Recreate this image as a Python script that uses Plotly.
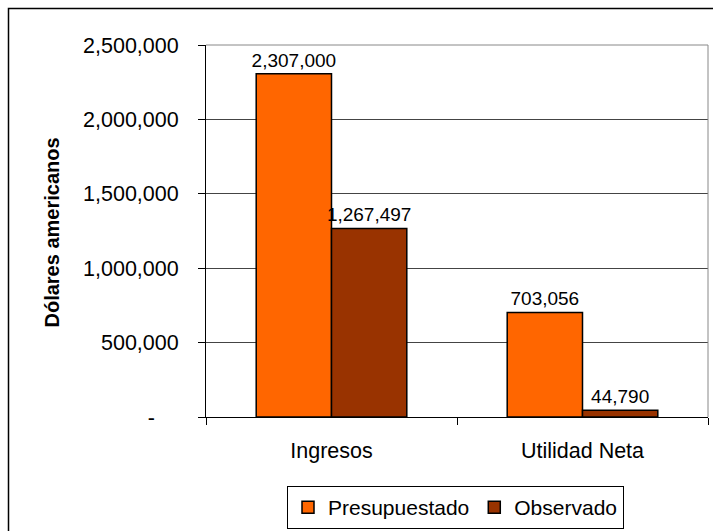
import plotly.graph_objects as go

categories = ["Ingresos", "Utilidad Neta"]
presupuestado = [2307000, 703056]
observado = [1267497, 44790]
series_names = ["Presupuestado", "Observado"]
tick_values = [0, 500000, 1000000, 1500000, 2000000, 2500000]
tick_labels = ["-\u00a0\u00a0\u00a0\u00a0", "500,000", "1,000,000", "1,500,000", "2,000,000", "2,500,000"]

FONT = "Liberation Sans, Arial, sans-serif"

fig = go.Figure()
for name, vals, color in [(series_names[0], presupuestado, "#FF6600"),
                          (series_names[1], observado, "#993300")]:
    fig.add_trace(go.Bar(
        x=categories, y=vals, name=name,
        marker=dict(color=color, line=dict(color="black", width=1.5)),
        text=[f"{v:,}" for v in vals], textposition="outside",
        textfont=dict(family=FONT, size=19, color="black"),
        constraintext="none", cliponaxis=False,
    ))

L, R, T, B = 206, 5, 45, 114
W, H = 713, 531
pw = W - L - R
ph = H - T - B

def px(x):
    return (x - L) / pw

def py(y):
    return (H - B - y) / ph

fig.update_layout(
    width=W, height=H, autosize=False,
    margin=dict(l=L, r=R, t=T, b=B, autoexpand=False),
    paper_bgcolor="white", plot_bgcolor="white",
    barmode="group", bargap=0.4, bargroupgap=0,
    font=dict(family=FONT, size=21, color="black"),
    showlegend=True,
    legend=dict(orientation="h", x=px(455.5), xanchor="center", y=py(529), yanchor="bottom",
                bordercolor="black", borderwidth=1, font=dict(size=21, family=FONT),
                bgcolor="white", itemwidth=30, tracegroupgap=0),
    xaxis=dict(type="category", showline=True, linecolor="black", linewidth=1,
               ticks="outside", tickson="boundaries", ticklen=7, tickcolor="black",
               tickfont=dict(size=21.5, family=FONT), showgrid=False,
               ticklabelstandoff=14, automargin=False),
    yaxis=dict(range=[0, 2500000], tickvals=tick_values, ticktext=tick_labels,
               showline=True, linecolor="black", linewidth=1,
               ticks="outside", ticklen=7, tickcolor="black",
               tickfont=dict(size=21.5, family=FONT),
               showgrid=True, gridcolor="#444", gridwidth=1, zeroline=False,
               ticklabelstandoff=15, automargin=False),
    shapes=[
        dict(type="path", xref="paper", yref="paper", path="M0,1 L1,1 L1,0",
             line=dict(color="#888", width=1), layer="above"),
        dict(type="path", xref="paper", yref="paper",
             path=f"M{px(8.5)},{py(560)} L{px(8.5)},{py(8.5)} L{px(730)},{py(8.5)}",
             line=dict(color="black", width=1.5), layer="above"),
    ],
    annotations=[
        dict(text="<b>Dólares americanos</b>", xref="paper", yref="paper",
             x=px(51.5), y=py(233), xanchor="center", yanchor="middle",
             textangle=-90, showarrow=False, font=dict(size=20, family=FONT)),
    ],
)

fig.write_html("out.html")
